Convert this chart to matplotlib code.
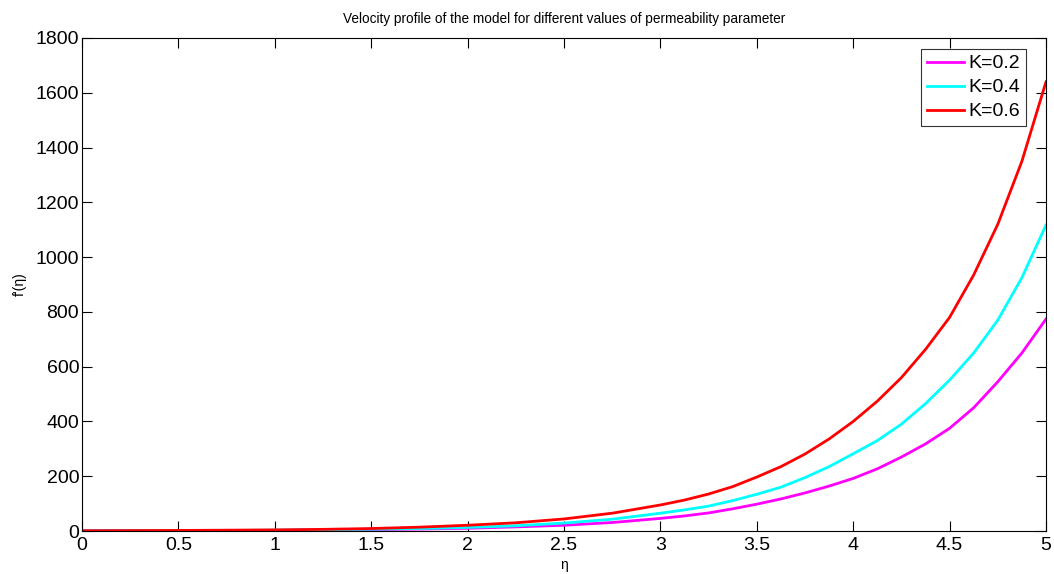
import matplotlib
matplotlib.use("Agg")
import matplotlib.pyplot as plt

eta = [0, 0.25, 0.5, 0.75, 1, 1.25, 1.5, 1.75, 2, 2.25, 2.5, 2.75,
       3, 3.125, 3.25, 3.375, 3.5, 3.625, 3.75, 3.875,
       4, 4.125, 4.25, 4.375, 4.5, 4.625, 4.75, 4.875, 5]
f_k02 = [1, 1.2, 1.5, 2, 2.5, 3.5, 5, 7, 10, 15, 21, 31,
         46, 55, 66, 81, 98, 117, 139, 164,
         192, 227, 270, 318, 375, 450, 545, 650, 774]
f_k04 = [1, 1.2, 1.5, 2, 3, 4.5, 6.5, 9, 13, 19, 29, 43,
         65, 77, 91, 111, 134, 160, 195, 235,
         282, 330, 390, 465, 551, 650, 770, 925, 1117]
f_k06 = [1, 1.5, 2, 3, 4, 6, 9, 14, 21, 30, 44, 65,
         95, 113, 135, 162, 197, 235, 281, 336,
         400, 474, 560, 663, 780, 935, 1120, 1350, 1640]
labels = ["K=0.2", "K=0.4", "K=0.6"]
colors = ["#ff00ff", "#00ffff", "#ff0000"]

plt.rcParams['font.family'] = ['Liberation Sans', 'DejaVu Sans']

fig = plt.figure(figsize=(10.54, 5.74), dpi=100)
ax = fig.add_axes([82/1054, 43/574, (1046-82)/1054, (531-38)/574])

for y, lab, c in zip([f_k02, f_k04, f_k06], labels, colors):
    ax.plot(eta, y, color=c, lw=2.0, label=lab)

ax.set_xlim(0, 5)
ax.set_ylim(0, 1800)
ax.set_xticks([0, 0.5, 1, 1.5, 2, 2.5, 3, 3.5, 4, 4.5, 5])
ax.set_xticklabels(["0", "0.5", "1", "1.5", "2", "2.5", "3", "3.5", "4", "4.5", "5"])
ax.set_yticks(range(0, 1801, 200))
ax.tick_params(direction='in', top=True, right=True, labelsize=14, length=7, width=0.8)
ax.tick_params(axis='x', pad=4)
ax.tick_params(axis='y', pad=2)
for s in ax.spines.values():
    s.set_linewidth(0.8)

ax.set_title("Velocity profile of the model for different values of permeability parameter",
             fontsize=9.8, pad=11)
ax.set_xlabel("η", fontsize=10, labelpad=3)
ax.set_ylabel("f'(η)", fontsize=10, labelpad=6)

leg = ax.legend(loc='upper right', bbox_to_anchor=((1026-82)/964, (531-49)/493),
                borderaxespad=0, fontsize=14, frameon=True, fancybox=False,
                edgecolor='black', handlelength=1.9, labelspacing=0.33,
                handletextpad=0.25, borderpad=0.3)
leg.get_frame().set_linewidth(0.8)

fig.savefig("out.png", dpi=100)
